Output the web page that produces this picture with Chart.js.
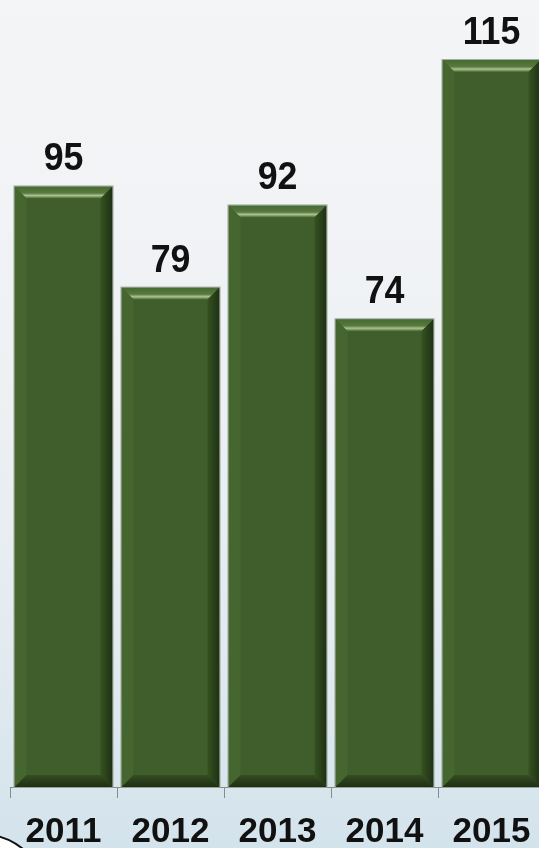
<!DOCTYPE html>
<html>
<head>
<meta charset="utf-8">
<script src="https://cdn.jsdelivr.net/npm/chart.js@4"></script>
<style>
  html, body { margin: 0; padding: 0; width: 539px; height: 848px; overflow: hidden; }
  body { background: linear-gradient(180deg, #f4f5f7 0%, #eef1f4 45%, #e3ebf0 75%, #d3e3ec 100%); position: relative; }
  #wrap { position: absolute; left: 0; top: 0; width: 550px; height: 848px; }
  #deco { position: absolute; left: -90px; top: 833px; width: 140px; height: 140px; border-radius: 50%; border: 2px solid #111; background: #fff; box-sizing: border-box; }
</style>
</head>
<body>
<div id="wrap"><canvas id="chart" width="550" height="848"></canvas></div>
<div id="deco"></div>
<script>
// ─── Data ───
const years = ['2011', '2012', '2013', '2014', '2015'];
const counts = [95, 79, 92, 74, 115];

// ─── Bevelled bars + value labels ───
const bevelBars = {
  id: 'bevelBars',
  afterDatasetsDraw(chart) {
    const ctx = chart.ctx;
    const meta = chart.getDatasetMeta(0);
    meta.data.forEach((bar, i) => {
      const { x, y, base, width } = bar.getProps(['x', 'y', 'base', 'width'], true);
      const l = x - width / 2, r = x + width / 2, t = y, b = base, e = 12;
      ctx.save();
      const poly = (pts, fill) => {
        ctx.beginPath();
        ctx.moveTo(pts[0][0], pts[0][1]);
        pts.slice(1).forEach(p => ctx.lineTo(p[0], p[1]));
        ctx.closePath();
        ctx.fillStyle = fill;
        ctx.fill();
      };
      // top edge with soft highlight near its inner side
      const gt = ctx.createLinearGradient(0, t, 0, t + e);
      gt.addColorStop(0, '#466a30');
      gt.addColorStop(0.55, '#58793f');
      gt.addColorStop(0.75, '#a9c292');
      gt.addColorStop(0.9, '#6f8d56');
      gt.addColorStop(1, '#44652e');
      poly([[l, t], [r, t], [r - e, t + e], [l + e, t + e]], gt);
      // left edge
      poly([[l, t], [l + e, t + e], [l + e, b - e], [l, b]], '#45672f');
      // right edge
      const gr = ctx.createLinearGradient(r - e, 0, r, 0);
      gr.addColorStop(0, '#35521f');
      gr.addColorStop(1, '#1f3016');
      poly([[r, t], [r, b], [r - e, b - e], [r - e, t + e]], gr);
      // bottom edge
      const gb = ctx.createLinearGradient(0, b - e, 0, b);
      gb.addColorStop(0, '#344d20');
      gb.addColorStop(1, '#1f2e15');
      poly([[l, b], [l + e, b - e], [r - e, b - e], [r, b]], gb);
      // thin outline
      ctx.strokeStyle = 'rgba(150,160,145,0.9)';
      ctx.lineWidth = 1;
      ctx.strokeRect(l - 0.5, t - 0.5, width + 1, b - t + 1);
      // value label
      ctx.fillStyle = '#111';
      ctx.font = 'bold 38px "Liberation Sans", Arial, sans-serif';
      ctx.textAlign = 'center';
      ctx.textBaseline = 'alphabetic';
      ctx.translate(x, t - 16);
      ctx.scale(0.94, 1);
      ctx.fillText(String(counts[i]), 0, 0);
      ctx.restore();
    });
  }
};

new Chart(document.getElementById('chart'), {
  type: 'bar',
  data: {
    labels: years,
    datasets: [{
      data: counts,
      backgroundColor: '#3f5e2b',
      borderWidth: 0,
      barPercentage: 0.916,
      categoryPercentage: 1
    }]
  },
  options: {
    responsive: false,
    animation: false,
    layout: { padding: { left: 10, right: 5, top: 0, bottom: 0 } },
    plugins: { legend: { display: false }, tooltip: { enabled: false } },
    scales: {
      x: {
        offset: true,
        grid: { display: true, drawOnChartArea: false, drawTicks: true, tickLength: 11, color: '#8a8a8a', offset: true },
        border: { display: true, color: '#8a8a8a', width: 1 },
        ticks: { color: '#111', padding: 17, font: { family: '"Liberation Sans", Arial, sans-serif', size: 35, weight: 'bold', lineHeight: 1 } },
        afterFit: s => { s.height = 61; }
      },
      y: { display: false, min: 0, max: 124.5 }
    }
  },
  plugins: [bevelBars]
});
</script>
</body>
</html>
